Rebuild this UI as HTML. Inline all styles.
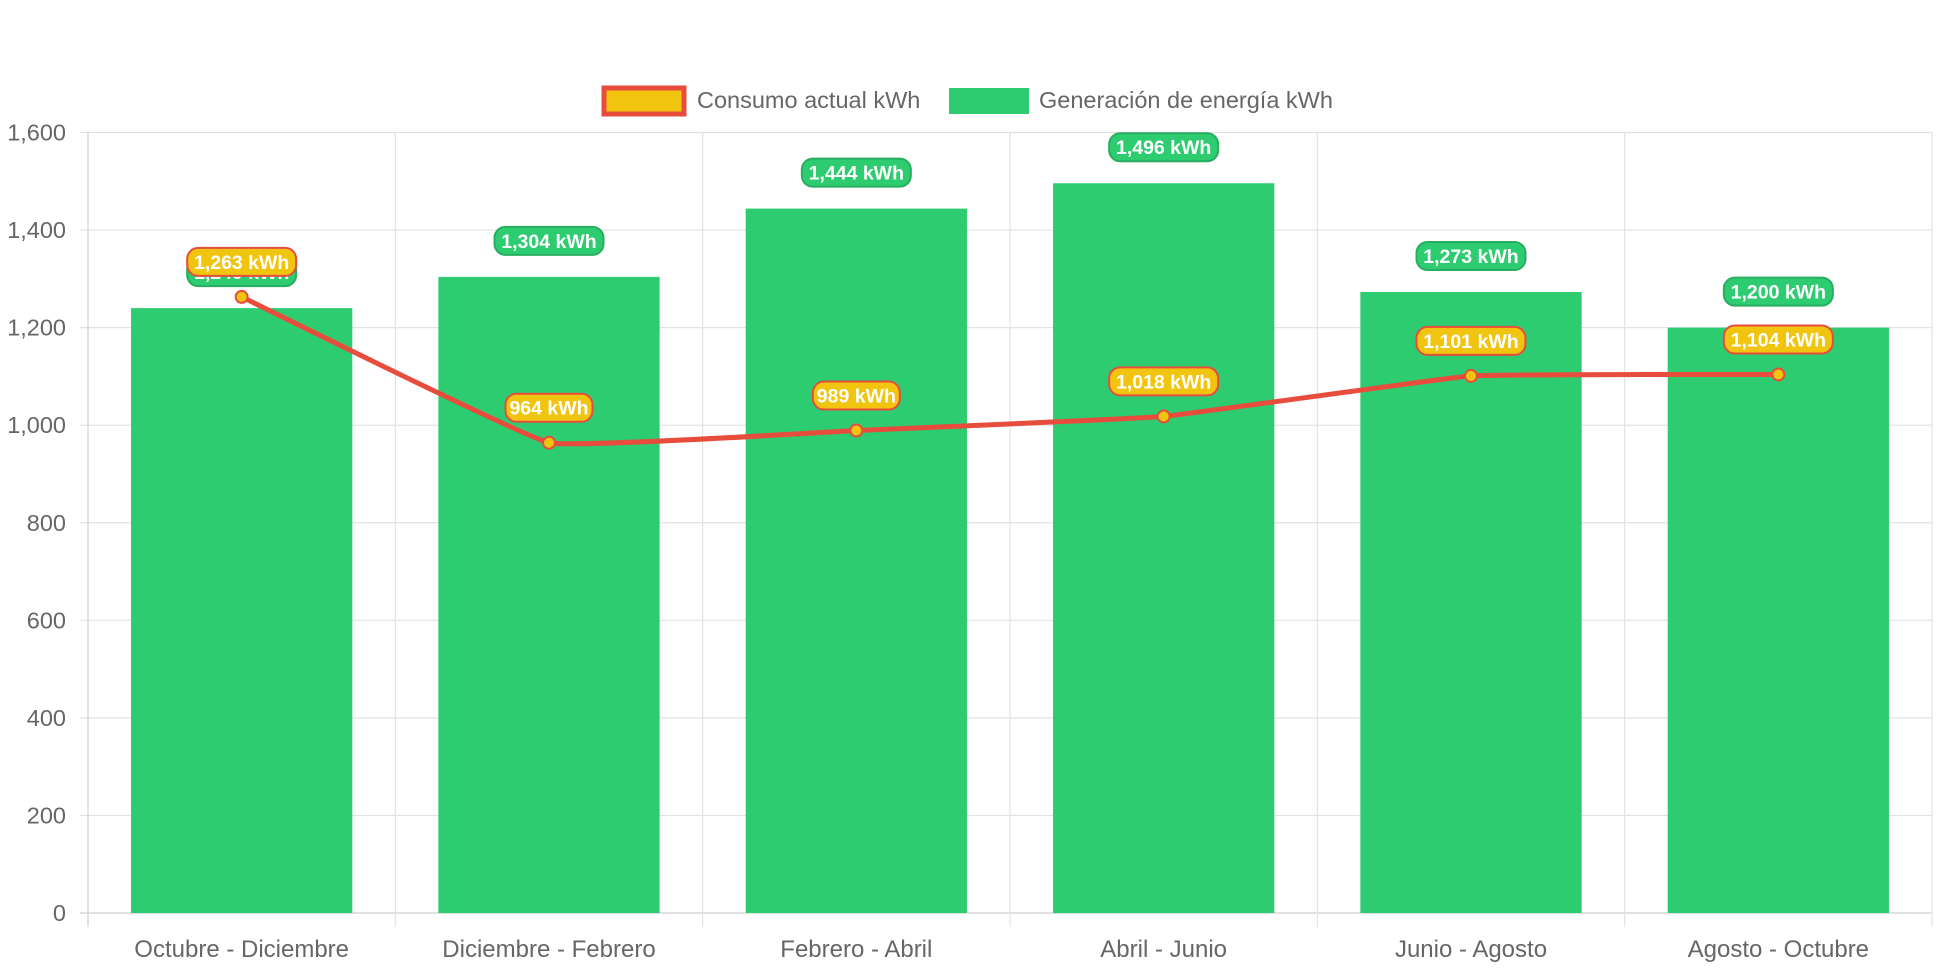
<!DOCTYPE html>
<html><head><meta charset="utf-8"><style>
html,body{margin:0;padding:0;background:#fff;}
svg{display:block;font-family:"Liberation Sans",Arial,sans-serif;}
</style></head><body>
<svg id="chart" width="1942" height="970" viewBox="0 0 1942 970">
  <g id="legend">
    <g>
      <rect x="604" y="88" width="80" height="26" fill="#f1c40f" stroke="#e74c3c" stroke-width="5"/>
      <text x="697" y="108" font-size="23.5" fill="#666">Consumo actual kWh</text>
    </g>
    <g>
      <rect x="949" y="88" width="80" height="26" fill="#2ecc71"/>
      <text x="1039" y="108" font-size="23.5" fill="#666">Generación de energía kWh</text>
    </g>
  </g>
  <g id="grid"></g>
  <g id="bars"></g>
  <g id="line"></g>
  <g id="labels"></g>
</svg>
<script>
const categories = ["Octubre - Diciembre","Diciembre - Febrero","Febrero - Abril","Abril - Junio","Junio - Agosto","Agosto - Octubre"];
const generacion = [1240,1304,1444,1496,1273,1200];
const consumo = [1263,964,989,1018,1101,1104];
const yTicks = [0,200,400,600,800,1000,1200,1400,1600];
const yTickLabels = ["0","200","400","600","800","1,000","1,200","1,400","1,600"];

const NS="http://www.w3.org/2000/svg";
const L=88,R=1932,T=132.5,B=913,YMAX=1600;
const band=(R-L)/categories.length;
const y=v=>B-(v/YMAX)*(B-T);
const xc=i=>L+band*(i+0.5);
function mk(tag,attrs,parent){const e=document.createElementNS(NS,tag);for(const k in attrs)e.setAttribute(k,attrs[k]);parent.appendChild(e);return e;}
const fmt=v=>v.toLocaleString('en-US')+" kWh";

const grid=document.getElementById('grid');
yTicks.forEach((t,i)=>{
  const g=mk('line',{x1:L-8,x2:R,y1:y(t),y2:y(t),stroke:i===0?'#cfcfcf':'#e2e2e2','stroke-width':1.2},grid);
  
  
  const tx=mk('text',{x:L-22,y:y(t)+8,'font-size':23.5,fill:'#666','text-anchor':'end'},grid);
  tx.textContent=yTickLabels[i];
  
  
});
for(let i=0;i<=categories.length;i++){
  const x=L+band*i;
  const g=mk('line',{x1:x,x2:x,y1:T,y2:B+14,stroke:i===0?'#cfcfcf':'#e2e2e2','stroke-width':1.2},grid);
  
  
}
categories.forEach((c,i)=>{
  const tx=mk('text',{x:xc(i),y:957,'font-size':24,fill:'#666','text-anchor':'middle'},grid);
  tx.textContent=c;
  
  
});

const bars=document.getElementById('bars');
const bw=band*0.72;
generacion.forEach((v,i)=>{
  const r=mk('rect',{x:xc(i)-bw/2,y:y(v),width:bw,height:B-y(v),fill:'#2ecc71'},bars);
  
  
});

const line=document.getElementById('line');
const P=consumo.map((v,i)=>[xc(i),y(v)]);
const ten=0.04;
let d='M'+P[0][0]+','+P[0][1];
for(let i=0;i<P.length-1;i++){
  const p0=P[Math.max(0,i-1)],p1=P[i],p2=P[i+1],p3=P[Math.min(P.length-1,i+2)];
  const c1=[p1[0]+(p2[0]-p0[0])*ten,p1[1]+(p2[1]-p0[1])*ten];
  const c2=[p2[0]-(p3[0]-p1[0])*ten,p2[1]-(p3[1]-p1[1])*ten];
  d+=' C'+c1+' '+c2+' '+p2;
}
const pl=mk('path',{d:d,fill:'none',stroke:'#e74c3c','stroke-width':5,'stroke-linejoin':'round'},line);


consumo.forEach((v,i)=>{
  const c=mk('circle',{cx:xc(i),cy:y(v),r:6,fill:'#f1c40f',stroke:'#e74c3c','stroke-width':2},line);
  
  
});

const labels=document.getElementById('labels');
function pill(cx,cy,text,fill,stroke,name){
  const w=text.length*11+10, h=28;
  const g=mk('g',{},labels);
  
  
  mk('rect',{x:cx-w/2,y:cy-h/2,width:w,height:h,rx:11,fill:fill,stroke:stroke,'stroke-width':2},g);
  const t=mk('text',{x:cx,y:cy+7,'font-size':19.5,'font-weight':'bold',fill:'#fff','text-anchor':'middle'},g);
  t.textContent=text;
}
generacion.forEach((v,i)=>pill(xc(i),y(v)-36,fmt(v),'#2ecc71','#27ae60','label-generacion'));
consumo.forEach((v,i)=>pill(xc(i),y(v)-35,fmt(v),'#f1c40f','#e74c3c','label-consumo'));
</script>
</body></html>
